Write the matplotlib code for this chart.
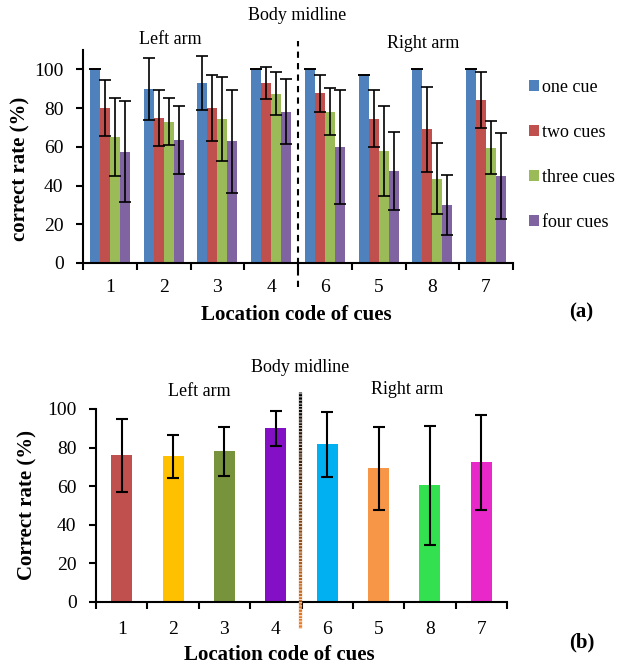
import numpy as np
import matplotlib
matplotlib.use("Agg")
import matplotlib.pyplot as plt
from matplotlib.collections import LineCollection
from matplotlib.colors import to_rgb

plt.rcParams['font.family'] = ['Liberation Serif', 'DejaVu Serif']

# location codes, in the order shown (left arm then right arm)
locations = ['1', '2', '3', '4', '6', '5', '8', '7']

# panel (a): correct rate by number of cues
series_names = ['one cue', 'two cues', 'three cues', 'four cues']
one_cue = [100, 90, 93, 100, 100, 97, 100, 100]
one_cue_err = [0, 16, 14, 0, 0, 0, 0, 0]
two_cues = [80, 75, 80, 93, 87.6, 74.6, 69, 84]
two_cues_err = [14.5, 14.6, 17, 8.3, 9.5, 14.5, 22, 14.5]
three_cues = [65, 73, 74.3, 87.5, 78.2, 57.7, 43.6, 59.6]
three_cues_err = [20, 12, 21.7, 11.3, 12, 23.3, 18.3, 13.8]
four_cues = [57.5, 63.6, 62.8, 78.2, 60, 47.4, 30, 44.8]
four_cues_err = [26.2, 17.5, 26.6, 16.8, 29.5, 20, 15.5, 22.3]
colors_a = ['#4F81BD', '#C0504D', '#9BBB59', '#8064A2']

# panel (b): overall correct rate per location
overall = [76, 75.5, 78.1, 90, 81.7, 69.3, 60.4, 72.4]
overall_err = [19, 11, 12.7, 9.2, 17, 21.5, 31, 24.5]
colors_b = ['#C0504D', '#FFC000', '#77933C', '#8410C6',
            '#00B0F0', '#F79646', '#33E050', '#E828C8']

fig = plt.figure(figsize=(6.17, 6.69), dpi=100)


def style_axes(ax, ytop, xpad):
    x = np.arange(len(locations))
    ax.set_xlim(-0.5, len(locations) - 0.5)
    ax.set_ylim(0, ytop)
    ax.set_yticks(np.arange(0, 101, 20))
    ax.set_xticks(x)
    ax.set_xticklabels(locations)
    ax.set_xticks(np.arange(-0.5, len(locations), 1.0), minor=True)
    ax.tick_params(axis='x', which='major', length=0, labelsize=14, pad=xpad)
    ax.tick_params(axis='x', which='minor', length=5, width=1.5, direction='out')
    ax.tick_params(axis='y', length=5, width=1.5, direction='out', labelsize=14, pad=9)
    for s in ['top', 'right']:
        ax.spines[s].set_visible(False)
    for s in ['left', 'bottom']:
        ax.spines[s].set_linewidth(1.5)


def px(xp, yp):
    return xp / 617, 1 - yp / 669


# ---------------- panel (a) ----------------
ax1 = fig.add_axes([83 / 617, 1 - 263 / 669, 430 / 617, 213 / 669])
x = np.arange(len(locations))
w = 0.186
vals = [one_cue, two_cues, three_cues, four_cues]
errs = [one_cue_err, two_cues_err, three_cues_err, four_cues_err]
for i in range(4):
    ax1.bar(x + (i - 1.5) * w, vals[i], w, color=colors_a[i], label=series_names[i],
            yerr=errs[i], capsize=4,
            error_kw=dict(ecolor='black', elinewidth=1.2, capthick=1.2), zorder=2)
style_axes(ax1, 110, 11.5)
ax1.plot([3.5, 3.5], [-0.113, 1.042], transform=ax1.get_xaxis_transform(),
         color='black', lw=1.5, ls=(0, (3, 2.5)), clip_on=False)
ax1.legend(loc='center left', bbox_to_anchor=px(529, 155),
           bbox_transform=fig.transFigure, frameon=False, fontsize=13,
           handlelength=0.55, handleheight=0.55, handletextpad=0.18,
           labelspacing=1.55, borderpad=0, borderaxespad=0)

fig.text(*px(20.5, 169), 'correct rate (%)', rotation=90, ha='center', va='center',
         fontsize=15, fontweight='bold')
fig.text(*px(296, 315), 'Location code of cues', ha='center', va='center',
         fontsize=15, fontweight='bold')
fig.text(*px(297, 15), 'Body midline', ha='center', va='center', fontsize=13)
fig.text(*px(170, 40), 'Left arm', ha='center', va='center', fontsize=13)
fig.text(*px(423, 43), 'Right arm', ha='center', va='center', fontsize=13)
fig.text(*px(581, 312), '(a)', ha='center', va='center', fontsize=15, fontweight='bold')

# ---------------- panel (b) ----------------
ax2 = fig.add_axes([96 / 617, 1 - 602 / 669, 411 / 617, 193 / 669])
ax2.bar(x, overall, 0.41, color=colors_b, yerr=overall_err, capsize=4.5,
        error_kw=dict(ecolor='black', elinewidth=1.5, capthick=1.5), zorder=2)
style_axes(ax2, 100, 13.5)

# midline: fading from black to orange, cut by thin white gaps
y0, y1 = -0.135, 1.088
n = 60
ys = np.linspace(y1, y0, n + 1)
segs = [[(3.47, ys[k]), (3.47, ys[k + 1])] for k in range(n)]
c_top = np.array(to_rgb('#000000'))
c_bot = np.array(to_rgb('#F07A1E'))
cols = [tuple(c_top + (c_bot - c_top) * t) for t in np.linspace(0, 1, n)]
lc = LineCollection(segs, colors=cols, linewidths=2.3, capstyle='butt',
                    transform=ax2.get_xaxis_transform(), clip_on=False, zorder=3)
ax2.add_collection(lc)
ax2.plot([3.47, 3.47], [y0, y1], transform=ax2.get_xaxis_transform(),
         color='white', lw=2.4, ls=(0, (0.25, 0.7)), solid_capstyle='butt',
         dash_capstyle='butt', clip_on=False, zorder=4, alpha=0.85)

fig.text(*px(27, 505), 'Correct rate (%)', rotation=90, ha='center', va='center',
         fontsize=15, fontweight='bold')
fig.text(*px(279, 655), 'Location code of cues', ha='center', va='center',
         fontsize=15, fontweight='bold')
fig.text(*px(300, 368), 'Body midline', ha='center', va='center', fontsize=13)
fig.text(*px(199, 392), 'Left arm', ha='center', va='center', fontsize=13)
fig.text(*px(407, 390), 'Right arm', ha='center', va='center', fontsize=13)
fig.text(*px(582, 642), '(b)', ha='center', va='center', fontsize=15, fontweight='bold')

fig.savefig('out.png', dpi=100)
